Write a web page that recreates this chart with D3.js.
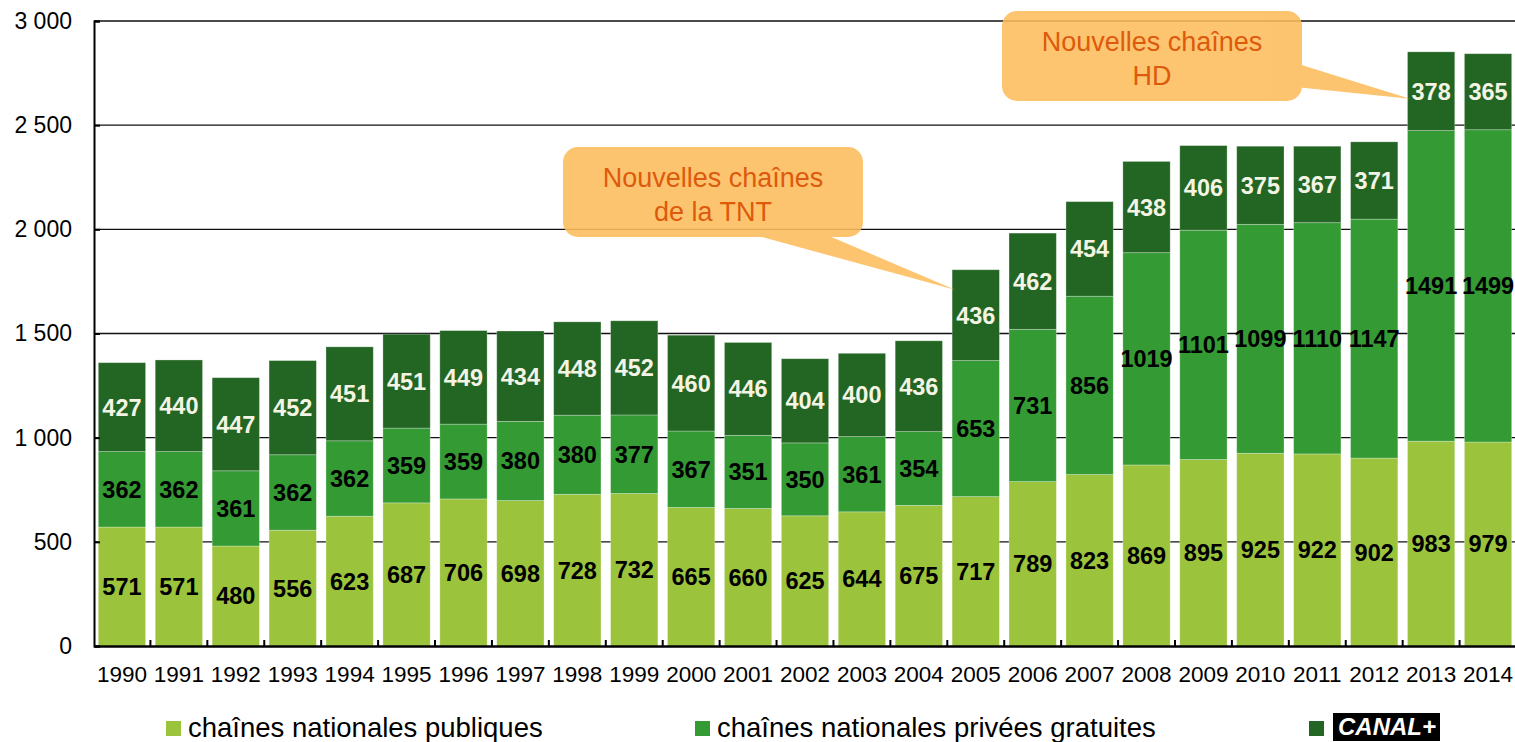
<!DOCTYPE html>
<html>
<head>
<meta charset="utf-8">
<script src="https://cdn.jsdelivr.net/npm/d3@7"></script>
<style>
  body { margin: 0; background: #fff; }
  svg { display: block; font-family: "Liberation Sans", Arial, sans-serif; }
</style>
</head>
<body>
<div id="chart"></div>
<script>
const years = ["1990","1991","1992","1993","1994","1995","1996","1997","1998","1999","2000","2001","2002","2003","2004","2005","2006","2007","2008","2009","2010","2011","2012","2013","2014"]
const publiques = [571,571,480,556,623,687,706,698,728,732,665,660,625,644,675,717,789,823,869,895,925,922,902,983,979]
const privees = [362,362,361,362,362,359,359,380,380,377,367,351,350,361,354,653,731,856,1019,1101,1099,1110,1147,1491,1499]
const canal = [427,440,447,452,451,451,449,434,448,452,460,446,404,400,436,436,462,454,438,406,375,367,371,378,365]
const yTicks = [0,500,1000,1500,2000,2500,3000]
const seriesNames = ["chaînes nationales publiques","chaînes nationales privées gratuites","CANAL+"]

const W = 1515, H = 742
const margin = {top: 21, left: 94}
const width = 1422
const height = 625

const svg = d3.select("#chart").append("svg")
    .attr("width", W)
    .attr("height", H)

const g = svg.append("g")
    .attr("transform", `translate(${margin.left},${margin.top})`)

const keys = ["pub","priv","canal"]
const table = years.map((y, i) => ({year: y, pub: publiques[i], priv: privees[i], canal: canal[i]}))
const stacked = d3.stack().keys(keys)(table)

const x = d3.scaleBand()
    .domain(years)
    .range([0, width])
    .paddingInner(0.169)
    .paddingOuter(0.0756)

const y = d3.scaleLinear()
    .domain([0, 3000])
    .range([height, 0])

const color = d3.scaleOrdinal()
    .domain(keys)
    .range(["#9bc33c", "#349a34", "#236523"])
const labelColor = {pub: "#000", priv: "#000", canal: "#f4f4e4"}

// grid
g.append("g")
    .selectAll("line")
    .data(yTicks.filter(d => d > 0))
    .join("line")
        .attr("x1", 0)
        .attr("x2", width)
        .attr("y1", d => y(d))
        .attr("y2", d => y(d))
        .attr("stroke", "#111")
        .attr("stroke-width", 1.3)

// bars
const layers = g.append("g")
    .selectAll("g")
    .data(stacked)
    .join("g")
        .attr("fill", d => color(d.key))

layers.selectAll("rect")
    .data(d => d)
    .join("rect")
        .attr("x", d => x(d.data.year))
        .attr("y", d => y(d[1]))
        .attr("width", x.bandwidth())
        .attr("height", d => y(d[0]) - y(d[1]))
        .attr("stroke", "rgba(255,255,255,0.35)")
        .attr("stroke-width", 0.8)

// value labels
stacked.forEach(layer => {
    g.append("g")
        .selectAll("text")
        .data(layer)
        .join("text")
            .attr("x", d => x(d.data.year) + x.bandwidth() / 2)
            .attr("y", d => (y(d[0]) + y(d[1])) / 2)
            .attr("dy", "0.36em")
            .attr("text-anchor", "middle")
            .attr("font-weight", "bold")
            .attr("font-size", 23.5)
            .attr("fill", labelColor[layer.key])
            .text(d => d[1] - d[0])
})

// y axis
const yAxis = g.append("g")
    .call(d3.axisLeft(y).tickValues(yTicks).tickSize(-6).tickPadding(22)
        .tickFormat(d => d3.format(",")(d).replace(",", " ")))
yAxis.select(".domain").attr("stroke", "#000").attr("stroke-width", 2)
yAxis.selectAll(".tick line").attr("stroke", "#000").attr("stroke-width", 2)
yAxis.selectAll("text").attr("font-size", 23).attr("fill", "#000").attr("font-family", "Liberation Sans, Arial, sans-serif")

// x axis
const xAxis = g.append("g")
    .attr("transform", `translate(0,${height})`)
    .call(d3.axisBottom(x).tickSize(0).tickPadding(20))
xAxis.select(".domain").attr("stroke", "#000").attr("stroke-width", 2.5)
xAxis.selectAll("text").attr("font-size", 22.5).attr("fill", "#000").attr("font-family", "Liberation Sans, Arial, sans-serif")
g.append("g")
    .selectAll("line")
    .data(years.slice(1))
    .join("line")
        .attr("x1", d => x(d) - x.step() * x.paddingInner() / 2)
        .attr("x2", d => x(d) - x.step() * x.paddingInner() / 2)
        .attr("y1", height)
        .attr("y2", height - 6)
        .attr("stroke", "#000")
        .attr("stroke-width", 2)

// callouts
function callout(box, lines, pointer) {
    const c = svg.append("g").attr("opacity", 0.88)
    c.append("path")
        .attr("d", d3.line()(pointer))
        .attr("fill", "#fdbd5c")
    c.append("rect")
        .attr("x", box[0]).attr("y", box[1])
        .attr("width", box[2]).attr("height", box[3])
        .attr("rx", 15)
        .attr("fill", "#fdbd5c")
    svg.append("g").selectAll("text")
        .data(lines)
        .join("text")
            .attr("x", box[0] + box[2] / 2)
            .attr("y", (d, i) => box[1] + 40 + i * 34)
            .attr("text-anchor", "middle")
            .attr("font-size", 27)
            .attr("fill", "#dd5a0c")
            .text(d => d)
}

const i2005 = years.indexOf("2005"), i2013 = years.indexOf("2013")
const tip2005 = [margin.left + x("2005") + 3, margin.top + y(publiques[i2005] + privees[i2005] + canal[i2005]) + 20]
const tip2013 = [margin.left + x("2013") + 2.5, margin.top + y(publiques[i2013] + privees[i2013] + canal[i2013]) + 47]

callout([563, 147, 300, 90], ["Nouvelles chaînes", "de la TNT"],
    [[736, 230], [815, 230], tip2005, [736, 230]])
callout([1002, 11, 300, 90], ["Nouvelles chaînes", "HD"],
    [[1295, 63], [1295, 87], tip2013, [1295, 63]])

// legend
const legend = svg.append("g")
const legendX = [166, 695, 1309]
legend.selectAll("rect.sw")
    .data(keys)
    .join("rect")
        .attr("class", "sw")
        .attr("x", (d, i) => legendX[i])
        .attr("y", 721)
        .attr("width", 15)
        .attr("height", 15)
        .attr("fill", d => color(d))
legend.selectAll("text.lab")
    .data(seriesNames.slice(0, 2))
    .join("text")
        .attr("class", "lab")
        .attr("x", (d, i) => legendX[i] + 22)
        .attr("y", 737)
        .attr("font-size", 27.5)
        .attr("fill", "#000")
        .text(d => d)
legend.append("rect")
    .attr("x", 1333).attr("y", 713)
    .attr("width", 107).attr("height", 28)
    .attr("fill", "#000")
legend.append("text")
    .attr("x", 1338).attr("y", 735)
    .attr("font-size", 23)
    .attr("font-weight", "bold")
    .attr("font-style", "italic")
    .attr("fill", "#fff")
    .attr("textLength", 98)
    .attr("lengthAdjust", "spacingAndGlyphs")
    .text(seriesNames[2])
</script>
</body>
</html>
